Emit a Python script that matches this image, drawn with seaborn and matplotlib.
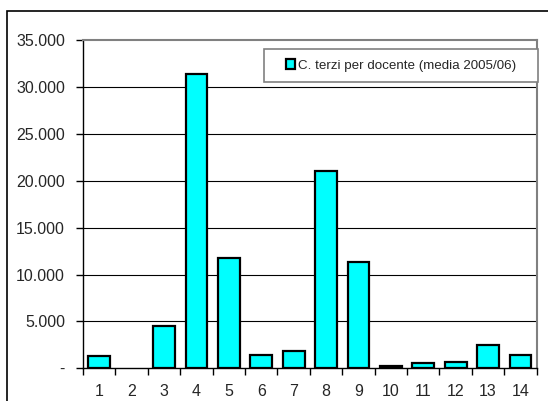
import matplotlib
matplotlib.use("Agg")
import matplotlib.pyplot as plt
from matplotlib.patches import Rectangle
from matplotlib.ticker import FuncFormatter, FixedLocator
import seaborn as sns
import pandas as pd

# Average third-party funding per lecturer, by department number
departments = ["1", "2", "3", "4", "5", "6", "7", "8", "9", "10", "11", "12", "13", "14"]
funding = [1350, 0, 4500, 31400, 11800, 1400, 1800, 21100, 11300, 200, 600, 650, 2450, 1450]
series_label = "C. terzi per docente (media 2005/06)"

df = pd.DataFrame({"dip": departments, "valore": funding})

sns.set_style("white")
plt.rcParams["font.family"] = ["Liberation Sans", "DejaVu Sans"]

W, H = 548, 401
fig = plt.figure(figsize=(W / 100, H / 100), dpi=100)
ax = fig.add_axes([83 / W, 1 - 368.3 / H, (536.7 - 83) / W, (368.3 - 40.3) / H])

sns.barplot(data=df, x="dip", y="valore", ax=ax, color="#00FFFF",
            edgecolor="black", linewidth=1.6, width=0.67, saturation=1,
            label=series_label)

# empty categories get no outline
for patch in ax.patches:
    if patch.get_height() == 0:
        patch.set_linewidth(0)

ax.set_ylim(0, 35000)
ax.set_xlim(-0.5, len(departments) - 0.5)
ax.set_yticks(range(0, 35001, 5000))

def it_fmt(v, _):
    if v == 0:
        return "-"
    return f"{int(v):,}".replace(",", ".")

ax.yaxis.set_major_formatter(FuncFormatter(it_fmt))
ax.set_xlabel("")
ax.set_ylabel("")

# horizontal gridlines
for yv in range(5000, 35000, 5000):
    ax.axhline(yv, color="black", linewidth=0.8, zorder=0)

for s in ["top", "right"]:
    ax.spines[s].set_color("#808080")
    ax.spines[s].set_linewidth(1.5)
for s in ["left", "bottom"]:
    ax.spines[s].set_color("black")
    ax.spines[s].set_linewidth(1.0)

ax.tick_params(axis="y", which="major", direction="out", length=5, width=1,
               color="black", labelsize=11.5, pad=8, left=True)
ax.tick_params(axis="x", which="major", length=0, labelsize=11.5, pad=11)
ax.xaxis.set_minor_locator(FixedLocator([i + 0.5 for i in range(-1, len(departments))]))
ax.tick_params(axis="x", which="minor", direction="out", length=5, width=1,
               color="black", bottom=True)

# legend: take the handle from the axes, draw it at figure level over its own box
handles, labels = ax.get_legend_handles_labels()
if ax.get_legend() is not None:
    ax.get_legend().remove()
fig.add_artist(Rectangle((264 / W, 1 - 82 / H), (538 - 264) / W, (82 - 49) / H,
                         transform=fig.transFigure, facecolor="white",
                         edgecolor="#808080", linewidth=1.2, zorder=5))
leg = fig.legend(handles, labels, loc="center",
                 bbox_to_anchor=((264 + 538) / 2 / W, 1 - 65.5 / H),
                 bbox_transform=fig.transFigure, fontsize=9.6, frameon=False,
                 handlelength=0.7, handleheight=0.7, handletextpad=0.2,
                 borderpad=0, borderaxespad=0)
leg.set_zorder(6)

# outer chart frame
fig.add_artist(Rectangle((7 / W, -0.1), 1.2, 1 - 11 / H + 0.1,
                         transform=fig.transFigure, fill=False,
                         edgecolor="black", linewidth=1.2))

fig.savefig("out.png", dpi=100)
